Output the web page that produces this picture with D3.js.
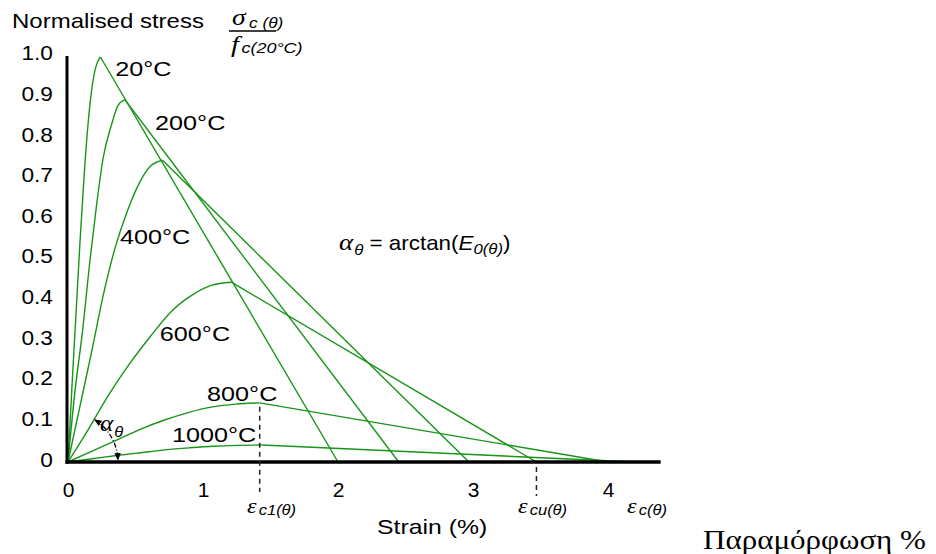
<!DOCTYPE html>
<html>
<head>
<meta charset="utf-8">
<script src="https://cdn.jsdelivr.net/npm/d3@7/dist/d3.min.js"></script>
<style>
  body { margin: 0; background: #fff; }
  svg { display: block; }
  text { font-family: Arial, "Liberation Sans", sans-serif; fill: #000; }
</style>
</head>
<body>
<svg id="chart" width="936" height="554"></svg>
<script>
// temperature curves (strain in %, stress normalised)
var temps = ["20°C", "200°C", "400°C", "600°C", "800°C", "1000°C"];
var peakStrain = [0.24, 0.42, 0.70, 1.21, 1.42, 1.44];
var peakStress = [1.0, 0.895, 0.745, 0.444, 0.146, 0.042];
var ultStrain = [2.0, 2.45, 2.97, 3.47, 4.0, 4.2];

// rising branches
var rise20 = [[0,0],[0.03,0.19],[0.06,0.37],[0.09,0.55],[0.12,0.71],[0.15,0.84],[0.18,0.93],[0.21,0.98],[0.24,1.0]];
var rise200 = [[0,0],[0.05,0.17],[0.11,0.33],[0.16,0.49],[0.21,0.63],[0.26,0.75],[0.32,0.83],[0.37,0.88],[0.42,0.895]];
var rise400 = [[0,0],[0.09,0.14],[0.18,0.28],[0.26,0.41],[0.35,0.53],[0.44,0.62],[0.53,0.69],[0.61,0.73],[0.70,0.745]];
var rise600 = [[0,0],[0.15,0.08],[0.30,0.165],[0.45,0.24],[0.61,0.31],[0.76,0.37],[0.91,0.41],[1.06,0.436],[1.21,0.444]];
var rise800 = [[0,0],[0.18,0.027],[0.36,0.054],[0.53,0.08],[0.71,0.103],[0.89,0.122],[1.07,0.136],[1.24,0.143],[1.42,0.146]];
var rise1000 = [[0,0],[0.18,0.008],[0.36,0.016],[0.54,0.023],[0.72,0.03],[0.9,0.035],[1.08,0.039],[1.26,0.041],[1.44,0.042]];
var rises = [rise20, rise200, rise400, rise600, rise800, rise1000];

var xTicks = [0, 1, 2, 3, 4];
var yTicks = [0, 0.1, 0.2, 0.3, 0.4, 0.5, 0.6, 0.7, 0.8, 0.9, 1.0];
var yTickText = ["0", "0.1", "0.2", "0.3", "0.4", "0.5", "0.6", "0.7", "0.8", "0.9", "1.0"];

// where the temperature names sit (strain, stress)
var tempLabelPos = [[0.35,0.953],[0.645,0.82],[0.385,0.538],[0.68,0.299],[1.03,0.151],[0.77,0.049]];

var svg = d3.select("#chart");
var green = "#189418";

var x = d3.scaleLinear().domain([0, 4]).range([68, 608]);
var y = d3.scaleLinear().domain([0, 1]).range([462, 57]);
var yLab = d3.scaleLinear().domain([0, 1]).range([459.5, 53]);
var xEnd = 4.39;

function stretched(g, px, py, str, size, sx, anchor){
	return g.append("text")
		.attr("transform", "translate(" + px + "," + py + ") scale(" + sx + ",1)")
		.attr("text-anchor", anchor || "start")
		.style("font-size", size + "px")
		.text(str);
}

// curves
var rising = d3.line().x(function(d){ return x(d[0]); }).y(function(d){ return y(d[1]); }).curve(d3.curveMonotoneX);
var straight = d3.line().x(function(d){ return x(d[0]); }).y(function(d){ return y(d[1]); });

var curves = svg.append("g");
temps.forEach(function(t, i){
	curves.append("path")
		.attr("d", rising(rises[i]))
		.attr("fill", "none").attr("stroke", green).attr("stroke-width", 1.4);
	curves.append("path")
		.attr("d", straight([[peakStrain[i], peakStress[i]], [ultStrain[i], 0]]))
		.attr("fill", "none").attr("stroke", green).attr("stroke-width", 1.4);
	stretched(svg, x(tempLabelPos[i][0]), y(tempLabelPos[i][1]), t, 21, 1.2);
});

// axes
var xAxis = d3.axisBottom(x).tickValues(xTicks).tickSize(0).tickPadding(20).tickFormat(d3.format("d"));
var gx = svg.append("g").attr("transform", "translate(0," + y(0) + ")").call(xAxis);
gx.select(".domain").remove();
gx.selectAll("text").style("font-size", "21px").style("font-family", "Arial, 'Liberation Sans', sans-serif").attr("fill", "#000");

var yAxis = d3.axisLeft(yLab).tickValues(yTicks).tickSize(0).tickPadding(13)
	.tickFormat(function(d, i){ return yTickText[i]; });
var gy = svg.append("g").attr("transform", "translate(67,0)").call(yAxis);
gy.select(".domain").remove();
gy.selectAll("text").style("font-size", "21px").style("font-family", "Arial, 'Liberation Sans', sans-serif").attr("fill", "#000")
	.attr("transform", "scale(1.08,1)");

svg.append("line").attr("x1", x(0) - 1).attr("x2", x(0) - 1).attr("y1", y(1) - 1).attr("y2", y(0) + 2)
	.attr("stroke", "#000").attr("stroke-width", 3);
svg.append("line").attr("x1", x(0) - 2.5).attr("x2", x(xEnd)).attr("y1", y(0)).attr("y2", y(0))
	.attr("stroke", "#000").attr("stroke-width", 3.5);

// axis titles
stretched(svg, 12, 28, "Normalised stress", 20, 1.2);
stretched(svg, 377, 534, "Strain (%)", 20, 1.24);
svg.append("text").attr("transform", "translate(703,549) scale(1.15,1)")
	.style("font-family", "'Times New Roman', 'Liberation Serif', serif").style("font-size", "27px")
	.text("Παραμόρφωση %");

// fraction sigma / f
var frac = svg.append("g");
var num = frac.append("text").attr("transform", "translate(232,25) scale(1.15,1)");
num.append("tspan").style("font-family", "'Liberation Serif', serif").style("font-style", "italic").style("font-size", "24px").text("σ");
num.append("tspan").attr("dy", 3).attr("dx", 3).style("font-style", "italic").style("font-size", "15px").text("c (θ)");
frac.append("line").attr("x1", 229).attr("x2", 276).attr("y1", 31).attr("y2", 31).attr("stroke", "#000").attr("stroke-width", 1.5);
var den = frac.append("text").attr("transform", "translate(231,52) scale(1.2,1)");
den.append("tspan").style("font-family", "'Liberation Serif', serif").style("font-style", "italic").style("font-size", "24px").text("f");
den.append("tspan").attr("dy", 1).attr("dx", 2).style("font-style", "italic").style("font-size", "15px").text("c(20°C)");

// alpha = arctan(E0)
var eq = svg.append("text").attr("transform", "translate(339,250) scale(1.12,1)");
eq.append("tspan").style("font-family", "'Liberation Serif', serif").style("font-style", "italic").style("font-size", "24px").text("α");
eq.append("tspan").attr("dy", 5).attr("dx", 1).style("font-style", "italic").style("font-size", "15px").text("θ");
eq.append("tspan").attr("dy", -5).style("font-size", "20px").text(" = arctan(");
eq.append("tspan").style("font-style", "italic").style("font-size", "20px").text("E");
eq.append("tspan").attr("dy", 4).style("font-style", "italic").style("font-size", "15px").text("0(θ)");
eq.append("tspan").attr("dy", -4).style("font-size", "20px").text(")");

// angle arc at origin
var defs = svg.append("defs");
defs.append("marker").attr("id", "arr").attr("viewBox", "0 0 10 10").attr("refX", 8).attr("refY", 5)
	.attr("markerWidth", 6).attr("markerHeight", 6).attr("orient", "auto-start-reverse")
	.append("path").attr("d", "M0,1 L10,5 L0,9 z").attr("fill", "#000");
var arcR = 50;
var a0 = 3 * Math.PI / 180, a1 = 57 * Math.PI / 180;
svg.append("path")
	.attr("d", "M" + (x(0) + arcR * Math.cos(a1)) + "," + (y(0) - arcR * Math.sin(a1)) +
		" A" + arcR + "," + arcR + " 0 0 1 " + (x(0) + arcR * Math.cos(a0)) + "," + (y(0) - arcR * Math.sin(a0)))
	.attr("fill", "none").attr("stroke", "#000").attr("stroke-width", 1.3)
	.attr("stroke-dasharray", "5,2,1,2")
	.attr("marker-start", "url(#arr)").attr("marker-end", "url(#arr)");
var al = svg.append("text").attr("transform", "translate(100,431) scale(1.1,1)");
al.append("tspan").style("font-family", "'Liberation Serif', serif").style("font-style", "italic").style("font-size", "23px").text("α");
al.append("tspan").attr("dy", 6).attr("dx", 1).style("font-style", "italic").style("font-size", "15px").text("θ");

// strain markers
svg.append("line").attr("x1", x(peakStrain[4])).attr("x2", x(peakStrain[4]))
	.attr("y1", y(peakStress[4]) + 4).attr("y2", 492)
	.attr("stroke", "#222").attr("stroke-width", 1.5).attr("stroke-dasharray", "5,4");
svg.append("line").attr("x1", x(ultStrain[3])).attr("x2", x(ultStrain[3]))
	.attr("y1", 467).attr("y2", 496)
	.attr("stroke", "#222").attr("stroke-width", 1.5).attr("stroke-dasharray", "5,4");

function epsLabel(px, sub){
	var t = svg.append("text").attr("transform", "translate(" + px + ",513) scale(1.1,1)");
	t.append("tspan").style("font-family", "'Liberation Serif', serif").style("font-style", "italic").style("font-size", "22px").text("ε");
	t.append("tspan").attr("dx", 2).attr("dy", 2).style("font-style", "italic").style("font-size", "15px").text(sub);
}
epsLabel(247, "c1(θ)");
epsLabel(518, "cu(θ)");
epsLabel(627, "c(θ)");
</script>
</body>
</html>
